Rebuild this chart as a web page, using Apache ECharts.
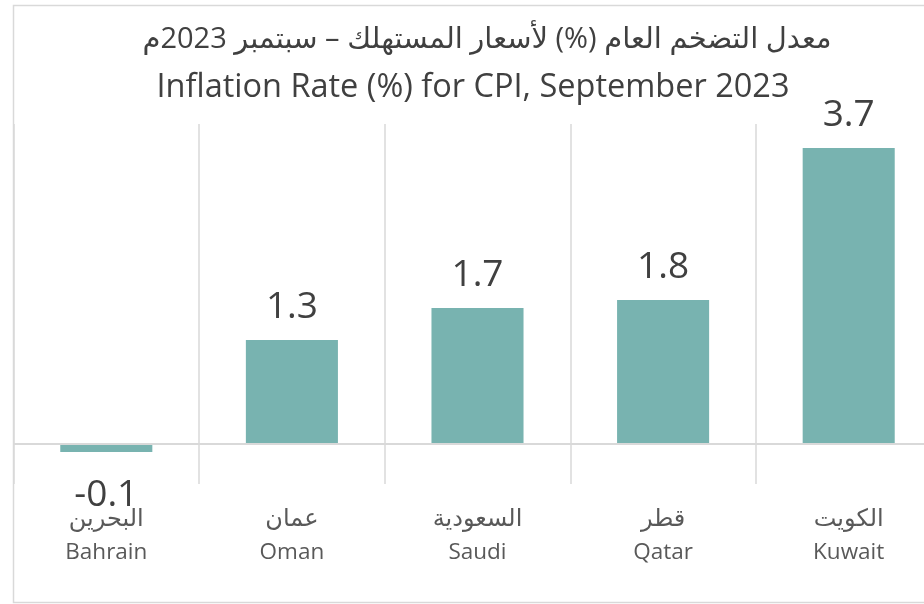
<!DOCTYPE html>
<html>
<head>
<meta charset="utf-8">
<script src="https://cdn.jsdelivr.net/npm/echarts@6/dist/echarts.min.js"></script>
<style>
  html, body { margin: 0; padding: 0; background: #fff; }
  #chart { width: 924px; height: 604px; }
</style>
</head>
<body>
<div id="chart"></div>
<script>
var titleAr = 'معدل التضخم العام (%) لأسعار المستهلك – سبتمبر 2023م';
var titleEn = 'Inflation Rate (%) for CPI, September 2023';
var countriesAr = ['البحرين', 'عمان', 'السعودية', 'قطر', 'الكويت'];
var countriesEn = ['Bahrain', 'Oman', 'Saudi', 'Qatar', 'Kuwait'];
var inflation = [-0.1, 1.3, 1.7, 1.8, 3.7];

var FONT = "'Open Sans', 'DejaVu Sans', sans-serif";
var BAR = '#78B3B0';
var GRID_LINE = '#D9D9D9';

var chart = echarts.init(document.getElementById('chart'));

var seriesData = inflation.map(function (v) {
    return {
        value: v,
        label: v < 0 ? { position: 'bottom', distance: 25 } : { position: 'top', distance: 14 }
    };
});

chart.setOption({
    animation: false,
    backgroundColor: '#fff',
    graphic: [
        {
            type: 'rect', z: -10,
            shape: { x: 13.5, y: 5.5, width: 940, height: 597 },
            style: { fill: '#fff', stroke: GRID_LINE, lineWidth: 1.5 }
        },
        {
            type: 'text', x: 487, y: 40,
            style: {
                text: titleAr, fill: '#404040', font: '29px ' + FONT,
                textAlign: 'center', textVerticalAlign: 'middle', align: 'center', verticalAlign: 'middle'
            }
        },
        {
            type: 'text', x: 473, y: 88,
            style: {
                text: titleEn, fill: '#404040', font: '32.5px ' + FONT,
                textAlign: 'center', textVerticalAlign: 'middle', align: 'center', verticalAlign: 'middle'
            }
        }
    ],
    grid: {
        left: 13.5, width: 928, top: 124, height: 360,
        containLabel: false, outerBoundsMode: 'none'
    },
    xAxis: {
        type: 'category',
        data: countriesEn,
        axisLine: { show: false, onZero: false },
        axisTick: { show: false },
        splitLine: { show: true, lineStyle: { color: GRID_LINE, width: 1.5 } },
        axisLabel: {
            margin: 18,
            formatter: function (value, idx) {
                return '{ar|' + countriesAr[idx] + '}\n{en|' + value + '}';
            },
            rich: {
                ar: { fontFamily: FONT, fontSize: 24, color: '#595959', lineHeight: 34 },
                en: { fontFamily: FONT, fontSize: 22.5, color: '#595959', lineHeight: 34 }
            }
        }
    },
    yAxis: {
        type: 'value',
        min: -0.5,
        max: 4,
        show: false,
        splitLine: { show: false }
    },
    series: [{
        type: 'bar',
        data: seriesData,
        barWidth: '49.6%',
        itemStyle: { color: BAR },
        label: {
            show: true,
            fontFamily: FONT,
            fontSize: 37,
            lineHeight: 37,
            color: '#404040'
        },
        markLine: {
            silent: true,
            symbol: 'none',
            label: { show: false },
            lineStyle: { color: GRID_LINE, width: 2, type: 'solid' },
            data: [{ yAxis: 0 }]
        }
    }]
});
</script>
</body>
</html>
